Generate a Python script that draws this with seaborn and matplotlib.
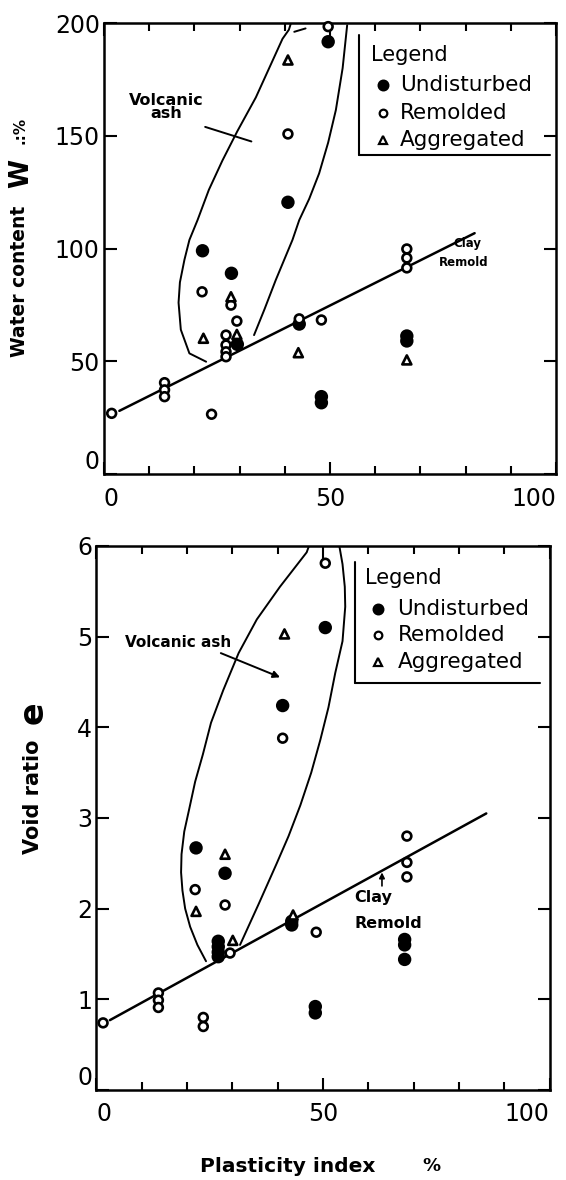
import numpy as np
import pandas as pd
import matplotlib
matplotlib.use("Agg")
import matplotlib.pyplot as plt
from matplotlib.ticker import MultipleLocator
import seaborn as sns

# ---------------- data ----------------
# Top panel: water content W (%) vs plasticity index (%)
w_und_pi = [49.6, 40.7, 21.8, 28.2, 29.5, 43.2, 48.1, 48.1, 67.0, 67.0]
w_und_w = [191.7, 120.5, 99.0, 89.0, 57.5, 66.5, 34.3, 31.6, 61.2, 59.0]
w_rem_pi = [49.6, 40.7, 21.7, 28.1, 29.4, 27.0, 27.0, 27.0, 27.0, 43.2, 48.1,
            1.7, 13.4, 13.4, 13.4, 23.8, 67.0, 67.0, 67.0]
w_rem_w = [198.4, 150.8, 80.8, 74.9, 67.8, 61.6, 57.2, 54.2, 52.0, 68.8, 68.3,
           26.9, 40.5, 37.3, 34.3, 26.5, 99.8, 95.8, 91.4]
w_agg_pi = [40.7, 28.1, 22.0, 29.4, 43.0, 67.0]
w_agg_w = [183.6, 78.6, 60.2, 61.9, 53.8, 50.6]

# Bottom panel: void ratio e vs plasticity index (%)
e_und_pi = [50.5, 41.1, 22.0, 28.4, 26.9, 26.9, 26.9, 26.9, 43.1, 43.1, 48.3, 48.3,
            68.0, 68.0, 68.0]
e_und_e = [5.10, 4.24, 2.67, 2.39, 1.64, 1.58, 1.52, 1.47, 1.86, 1.82, 0.92, 0.85,
           1.66, 1.60, 1.44]
e_rem_pi = [50.5, 41.1, 21.8, 28.4, 29.5, 48.5, 1.5, 13.7, 13.7, 13.7, 23.6, 23.6,
            68.5, 68.5, 68.5]
e_rem_e = [5.81, 3.88, 2.21, 2.04, 1.51, 1.74, 0.74, 1.07, 0.99, 0.91, 0.80, 0.70,
           2.80, 2.51, 2.35]
e_agg_pi = [41.5, 28.4, 22.0, 30.1, 43.4]
e_agg_e = [5.03, 2.60, 1.97, 1.65, 1.93]

# Clay (remolded) trend lines
w_clay_pi = [3.4, 82.0]
w_clay_w = [28.0, 106.8]
e_clay_pi = [3.0, 86.0]
e_clay_e = [0.77, 3.05]

# Volcanic ash envelopes
w_env_left_pi = [41.3, 40.9, 39.5, 33.6, 29.5, 26.2, 23.2, 20.7, 18.9, 17.8, 16.8,
                 16.5, 17.0, 18.9, 22.6]
w_env_left_w = [199.5, 197.0, 193.0, 167.0, 152.0, 139.0, 126.0, 112.6, 103.8, 95.0,
                85.0, 76.0, 64.0, 53.5, 49.8]
w_env_right_pi = [53.8, 52.8, 51.3, 49.6, 47.6, 45.4, 43.2, 41.7, 38.0, 35.5, 33.2]
w_env_right_w = [199.0, 180.0, 161.4, 147.0, 133.3, 122.0, 112.6, 103.8, 86.0, 73.0, 61.6]
w_env_dash_pi = [42.1, 44.6]
w_env_dash_w = [196.1, 197.6]

e_env_left_pi = [46.9, 46.4, 40.5, 35.4, 31.4, 28.0, 25.3, 23.5, 21.8, 20.5, 19.4,
                 18.8, 18.7, 19.0, 19.6, 20.7, 22.3, 24.2]
e_env_left_e = [6.0, 5.93, 5.55, 5.19, 4.82, 4.41, 4.05, 3.70, 3.40, 3.10, 2.85,
                2.60, 2.40, 2.20, 2.00, 1.80, 1.60, 1.42]
e_env_right_pi = [53.6, 54.3, 54.8, 54.9, 54.3, 52.7, 51.2, 49.4, 47.4, 45.0, 42.4,
                  39.8, 35.8, 31.7]
e_env_right_e = [6.0, 5.80, 5.55, 5.33, 4.95, 4.60, 4.22, 3.86, 3.50, 3.14, 2.80,
                 2.50, 2.05, 1.60]

types = ["Undisturbed", "Remolded", "Aggregated"]
y_ticks_w = [0, 50, 100, 150, 200]
y_ticks_e = [0, 1, 2, 3, 4, 5, 6]
x_ticks = [0, 50, 100]


def make_df(groups):
    rows = []
    for name, (xs, ys) in groups.items():
        for x, y in zip(xs, ys):
            rows.append((x, y, name))
    return pd.DataFrame(rows, columns=["PI", "val", "Type"])


df_w = make_df({"Undisturbed": (w_und_pi, w_und_w),
                "Remolded": (w_rem_pi, w_rem_w),
                "Aggregated": (w_agg_pi, w_agg_w)})
df_e = make_df({"Undisturbed": (e_und_pi, e_und_e),
                "Remolded": (e_rem_pi, e_rem_e),
                "Aggregated": (e_agg_pi, e_agg_e)})

# ---------------- style ----------------
sns.set_theme(style="white")
plt.rcParams["font.family"] = ["DejaVu Sans"]
plt.rcParams.update({
    "axes.edgecolor": "black", "text.color": "black",
    "xtick.color": "black", "ytick.color": "black",
    "axes.labelcolor": "black",
})

fig = plt.figure(figsize=(5.66, 11.8), dpi=100)
ax1 = fig.add_axes([0.1837, 0.5983, 0.7986, 0.3822])
ax2 = fig.add_axes([0.1701, 0.0763, 0.8012, 0.4610])

palette = {"Undisturbed": "black", "Remolded": "white", "Aggregated": "white"}
markers = {"Undisturbed": "o", "Remolded": "o", "Aggregated": "^"}
sizes = {"Undisturbed": 60, "Remolded": 40, "Aggregated": 42}

for ax, df in ((ax1, df_w), (ax2, df_e)):
    sns.scatterplot(data=df, x="PI", y="val", hue="Type", style="Type", size="Type",
                    hue_order=types, style_order=types, size_order=types,
                    palette=palette, markers=markers, sizes=sizes,
                    edgecolor="black", linewidth=1.9, legend=False, ax=ax,
                    zorder=3, clip_on=False)

# trend lines
ax1.plot(w_clay_pi, w_clay_w, color="black", lw=1.8, zorder=2)
ax2.plot(e_clay_pi, e_clay_e, color="black", lw=1.8, zorder=2)

# envelopes
for ax, (lx, ly, rx, ry) in ((ax1, (w_env_left_pi, w_env_left_w, w_env_right_pi, w_env_right_w)),
                             (ax2, (e_env_left_pi, e_env_left_e, e_env_right_pi, e_env_right_e))):
    ax.plot(lx, ly, color="black", lw=1.4, zorder=2, solid_joinstyle="round")
    ax.plot(rx, ry, color="black", lw=1.4, zorder=2, solid_joinstyle="round")
ax1.plot(w_env_dash_pi, w_env_dash_w, color="black", lw=1.4, zorder=2)

# axes formatting
for ax, yticks in ((ax1, y_ticks_w), (ax2, y_ticks_e)):
    ax.set_xlim(0, 100)
    ax.set_ylim(yticks[0], yticks[-1])
    ax.set_xticks(x_ticks)
    ax.xaxis.set_minor_locator(MultipleLocator(10))
    ax.set_yticks(yticks)
    ax.set_xlabel("")
    ax.set_ylabel("")
    ax.tick_params(which="both", direction="in", top=True, right=True,
                   bottom=True, left=True, width=1.5)
    ax.tick_params(which="major", length=9, labelsize=17)
    ax.tick_params(which="minor", length=6)
    ax.tick_params(axis="x", pad=9)
    ax.tick_params(axis="y", pad=3)
    for sp in ax.spines.values():
        sp.set_linewidth(1.8)
        sp.set_color("black")
    xl = ax.get_xticklabels()
    xl[0].set_horizontalalignment("left")
    xl[-1].set_horizontalalignment("right")
    yl = ax.get_yticklabels()
    yl[0].set_verticalalignment("bottom")

# legends (open L-shaped boxes)
def draw_legend(ax, xline, ytop, ybot, xright, xtitle, ytitle, xmark, xtext, ys):
    ax.plot([xline, xline], [ytop, ybot], transform=ax.transAxes, color="black", lw=1.5)
    ax.plot([xline, xright], [ybot, ybot], transform=ax.transAxes, color="black", lw=1.5)
    ax.text(xtitle, ytitle, "Legend", transform=ax.transAxes, fontsize=15,
            ha="left", va="center")
    for t, y in zip(types, ys):
        fc = palette[t]
        ax.plot([xmark], [y], transform=ax.transAxes, marker=markers[t],
                markersize=7 if t == "Undisturbed" else 5.5, markerfacecolor=fc,
                markeredgecolor="black", markeredgewidth=1.6, linestyle="none",
                clip_on=False)
        ax.text(xtext, y, t, transform=ax.transAxes, fontsize=15.5,
                ha="left", va="center")

draw_legend(ax1, 0.564, 0.973, 0.707, 0.987, 0.590, 0.929, 0.617, 0.655,
            [0.863, 0.800, 0.741])
draw_legend(ax2, 0.570, 0.971, 0.748, 0.978, 0.592, 0.941, 0.622, 0.664,
            [0.885, 0.836, 0.787])

# annotations
ax1.text(13.7, 162.7, "Volcanic\nash", ha="center", va="center", fontsize=11.5,
         fontweight="bold", linespacing=0.85)
ax1.annotate("", xy=(33.2, 147.1), xytext=(21.8, 154.3),
             arrowprops=dict(arrowstyle="-", color="black", lw=1.4))
ax1.text(80.5, 102.0, "Clay", ha="center", va="center", fontsize=8.5, fontweight="bold")
ax1.text(79.6, 94.0, "Remold", ha="center", va="center", fontsize=8.5, fontweight="bold")

ax2.text(6.3, 4.93, "Volcanic ash", ha="left", va="center", fontsize=11,
         fontweight="bold")
ax2.annotate("", xy=(41.1, 4.54), xytext=(26.9, 4.83),
             arrowprops=dict(arrowstyle="-|>", color="black", lw=1.4,
                             mutation_scale=10))
ax2.text(56.9, 2.12, "Clay", ha="left", va="center", fontsize=11.5, fontweight="bold")
ax2.text(56.9, 1.84, "Remold", ha="left", va="center", fontsize=11.5, fontweight="bold")
ax2.annotate("", xy=(63.0, 2.43), xytext=(63.0, 2.22),
             arrowprops=dict(arrowstyle="-|>", color="black", lw=1.2,
                             mutation_scale=8))

# axis labels
W, H = 566.0, 1180.0
fig.text(20 / W, 1 - 281 / H, "Water content", rotation=90, ha="center", va="center",
         fontsize=13.5, fontweight="bold")
fig.text(21 / W, 1 - 173 / H, "W", rotation=90, ha="center", va="center",
         fontsize=19, fontweight="bold")
fig.text(20 / W, 1 - 130 / H, ".:%", rotation=90, ha="center", va="center",
         fontsize=11, fontweight="bold")
fig.text(33 / W, 1 - 797 / H, "Void ratio", rotation=90, ha="center", va="center",
         fontsize=15, fontweight="bold")
fig.text(33 / W, 1 - 713 / H, "e", rotation=90, ha="center", va="center",
         fontsize=24, fontweight="bold")
fig.text(288 / W, 1 - 1166 / H, "Plasticity index", ha="center", va="center",
         fontsize=14.5, fontweight="bold")
fig.text(431 / W, 1 - 1166 / H, "%", ha="center", va="center",
         fontsize=13, fontweight="bold")

fig.savefig("out.png", dpi=100)
